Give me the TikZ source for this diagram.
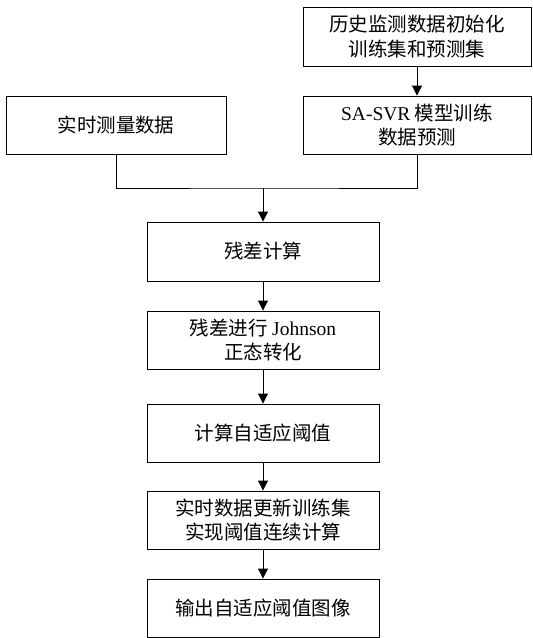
\documentclass[tikz,border=0pt]{standalone}
\usepackage{fontspec}
\setmainfont{Liberation Serif}
\newfontfamily\cjk{Noto Sans CJK SC}
\usetikzlibrary{arrows.meta}
\tikzset{
  box/.style={draw, line width=0.9pt, minimum height=58pt, inner sep=2pt, align=center,
    font=\fontsize{19.5}{24.5}\selectfont\cjk},
  mainbox/.style={box, minimum width=232pt},
  flow/.style={line width=0.9pt, -{Triangle[length=10pt,width=10pt]}},
  link/.style={line width=0.9pt}
}
\begin{document}
\begin{tikzpicture}[x=1pt,y=1pt]
\useasboundingbox (0,0) rectangle (533,-638);
\node[box, minimum width=228pt, minimum height=59pt] (hist) at (417,-36.5) {历史监测数据初始化\\训练集和预测集};
\node[box, minimum width=228pt] (svr) at (417,-125) {{\rmfamily SA-SVR} 模型训练\\数据预测};
\node[box, minimum width=220pt] (real) at (116,-125) {实时测量数据};
\node[mainbox, minimum height=59pt] (resid) at (263,-251.5) {残差计算};
\node[mainbox] (john) at (263,-340) {残差进行 {\rmfamily Johnson}\\正态转化};
\node[mainbox] (thr) at (263,-433) {计算自适应阈值};
\node[mainbox] (upd) at (263,-520) {实时数据更新训练集\\实现阈值连续计算};
\node[mainbox] (out) at (263,-608) {输出自适应阈值图像};
\coordinate (J) at (263,-188);
\draw[flow] (hist) -- (svr);
\draw[link] (real.south) |- (J) -| (svr.south);
\draw[flow] (J) -- (resid);
\draw[flow] (resid) -- (john);
\draw[flow] (john) -- (thr);
\draw[flow] (thr) -- (upd);
\draw[flow] (upd) -- (out);
\end{tikzpicture}
\end{document}
